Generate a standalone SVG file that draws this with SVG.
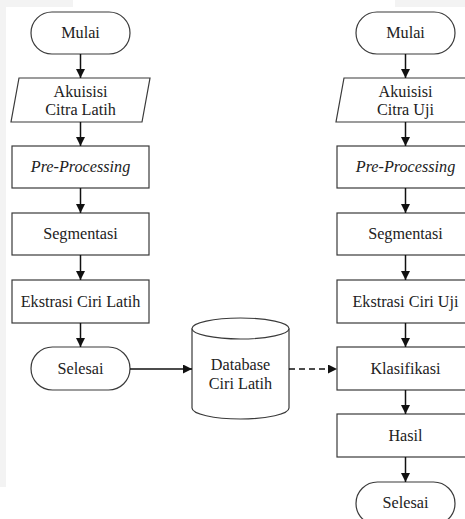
<svg xmlns="http://www.w3.org/2000/svg" width="465" height="519" viewBox="0 0 465 519">
<style>
.shape{fill:#ffffff;stroke:#3a3a3a;stroke-width:1.2}
.lbl{font-family:"Liberation Serif","Times New Roman",serif;font-size:16.2px;fill:#222;text-anchor:middle}
.it{font-style:italic}
.conn{stroke:#111;stroke-width:1.5;fill:none}
.dash{stroke-dasharray:6 4}
</style>
<defs>
<marker id="ah" viewBox="0 0 10 10" refX="10" refY="5" markerWidth="6.5" markerHeight="6" markerUnits="strokeWidth" orient="auto">
<path d="M0,0 L10,5 L0,10 z" fill="#111"/>
</marker>
</defs>
<rect x="0" y="0" width="465" height="519" fill="#ffffff"/>
<rect x="0" y="0" width="6" height="487" fill="#f3f3f3"/>
<rect x="0" y="0" width="73" height="7" fill="#f3f3f3"/>
<rect x="395" y="0" width="70" height="7" fill="#f3f3f3"/>

<g id="L-mulai"><rect class="shape" x="31" y="12" width="99" height="42" rx="21" ry="21"/><text class="lbl" x="80.5" y="38">Mulai</text></g>
<g id="L-akuisisi"><polygon class="shape" points="19,78 150,78 142,122 11,122"/><text class="lbl" x="80.5" y="97">Akuisisi</text><text class="lbl" x="80.5" y="115">Citra Latih</text></g>
<g id="L-pre"><rect class="shape" x="12" y="146" width="137" height="42"/><text class="lbl it" x="80.5" y="172">Pre-Processing</text></g>
<g id="L-seg"><rect class="shape" x="12" y="213" width="137" height="42"/><text class="lbl" x="80.5" y="239">Segmentasi</text></g>
<g id="L-ekstrasi"><rect class="shape" x="12" y="280" width="137" height="43"/><text class="lbl" x="80.5" y="307">Ekstrasi Ciri Latih</text></g>
<g id="L-selesai"><rect class="shape" x="31" y="347" width="99" height="43" rx="21.5" ry="21.5"/><text class="lbl" x="80.5" y="374">Selesai</text></g>

<g id="db"><path class="shape" d="M192,328.5 L192,408 A48.5,11 0 0 0 289,408 L289,328.5"/><ellipse class="shape" cx="240.5" cy="328.5" rx="48.5" ry="10.5"/><text class="lbl" x="240.5" y="370">Database</text><text class="lbl" x="240.5" y="388.5">Ciri Latih</text></g>

<g id="R-mulai"><rect class="shape" x="356" y="12" width="99" height="42" rx="21" ry="21"/><text class="lbl" x="405.5" y="38">Mulai</text></g>
<g id="R-akuisisi"><polygon class="shape" points="344,78 475,78 467,122 336,122"/><text class="lbl" x="405.5" y="97">Akuisisi</text><text class="lbl" x="405.5" y="115">Citra Uji</text></g>
<g id="R-pre"><rect class="shape" x="337" y="146" width="137" height="42"/><text class="lbl it" x="405.5" y="172">Pre-Processing</text></g>
<g id="R-seg"><rect class="shape" x="337" y="213" width="137" height="42"/><text class="lbl" x="405.5" y="239">Segmentasi</text></g>
<g id="R-ekstrasi"><rect class="shape" x="337" y="280" width="137" height="43"/><text class="lbl" x="405.5" y="307">Ekstrasi Ciri Uji</text></g>
<g id="R-klas"><rect class="shape" x="337" y="347" width="137" height="43"/><text class="lbl" x="405.5" y="374">Klasifikasi</text></g>
<g id="R-hasil"><rect class="shape" x="337" y="414" width="137" height="43"/><text class="lbl" x="405.5" y="441">Hasil</text></g>
<g id="R-selesai"><rect class="shape" x="356" y="482" width="99" height="43" rx="21.5" ry="21.5"/><text class="lbl" x="405.5" y="508">Selesai</text></g>

<g id="connectors">
<line class="conn" x1="80.5" y1="54" x2="80.5" y2="78" marker-end="url(#ah)"/>
<line class="conn" x1="80.5" y1="122" x2="80.5" y2="146" marker-end="url(#ah)"/>
<line class="conn" x1="80.5" y1="188" x2="80.5" y2="213" marker-end="url(#ah)"/>
<line class="conn" x1="80.5" y1="255" x2="80.5" y2="280" marker-end="url(#ah)"/>
<line class="conn" x1="80.5" y1="323" x2="80.5" y2="347" marker-end="url(#ah)"/>
<line class="conn" x1="130" y1="369" x2="192" y2="369" marker-end="url(#ah)"/>
<line class="conn dash" x1="289" y1="369" x2="337" y2="369" marker-end="url(#ah)"/>
<line class="conn" x1="405.5" y1="54" x2="405.5" y2="78" marker-end="url(#ah)"/>
<line class="conn" x1="405.5" y1="122" x2="405.5" y2="146" marker-end="url(#ah)"/>
<line class="conn" x1="405.5" y1="188" x2="405.5" y2="213" marker-end="url(#ah)"/>
<line class="conn" x1="405.5" y1="255" x2="405.5" y2="280" marker-end="url(#ah)"/>
<line class="conn" x1="405.5" y1="323" x2="405.5" y2="347" marker-end="url(#ah)"/>
<line class="conn" x1="405.5" y1="390" x2="405.5" y2="414" marker-end="url(#ah)"/>
<line class="conn" x1="405.5" y1="457" x2="405.5" y2="482" marker-end="url(#ah)"/>
</g>
</svg>
